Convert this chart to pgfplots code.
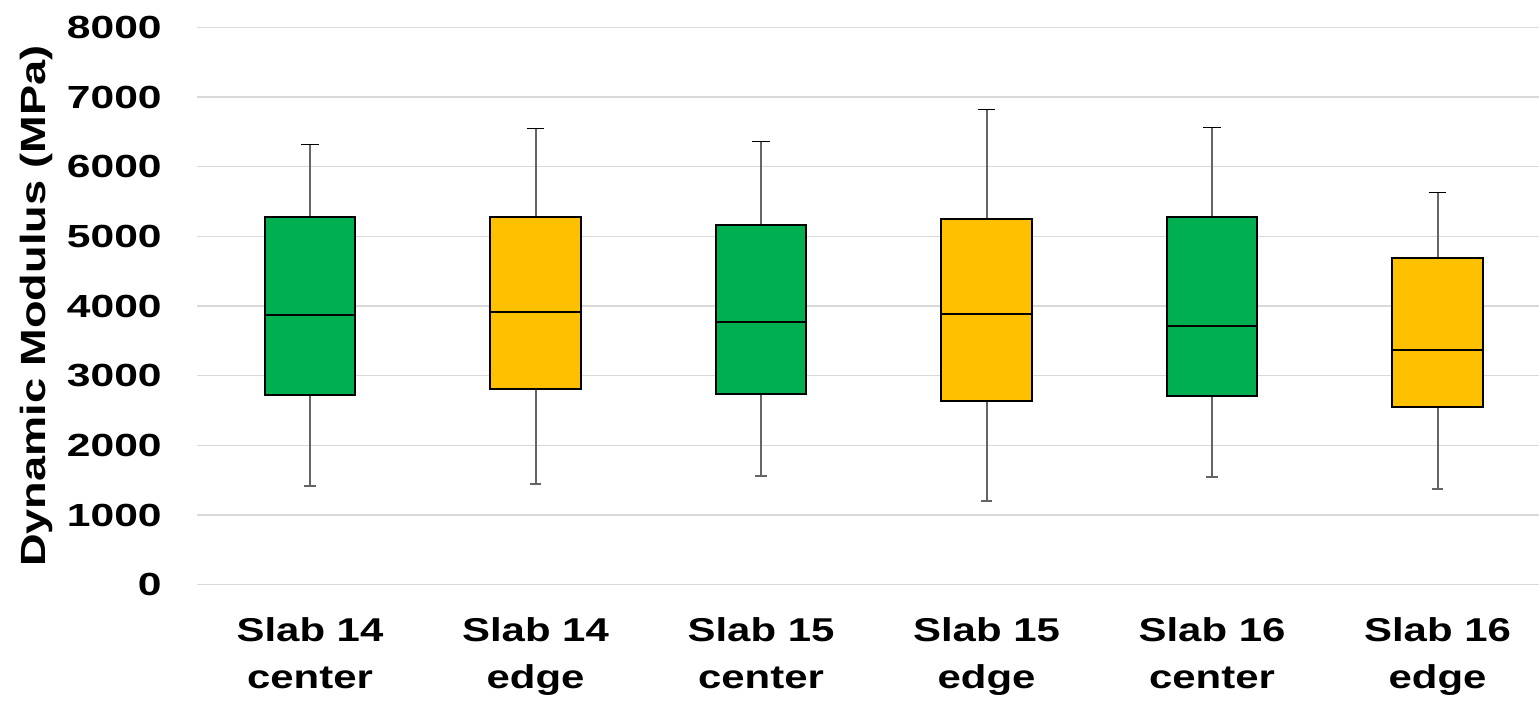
\documentclass[border=0pt]{standalone}
\usepackage{fontspec}
\setmainfont{Liberation Sans}
\usepackage{graphicx}
\usepackage{pgfplots}
\pgfplotsset{compat=1.18}
\definecolor{boxgreen}{HTML}{00B050}
\definecolor{boxyellow}{HTML}{FFC000}
\definecolor{gridgray}{HTML}{D9D9D9}
\definecolor{whiskgray}{HTML}{656565}
\newcommand{\sx}[1]{\scalebox{1.27}[1]{#1}}
\newcommand{\sy}[1]{\scalebox{1.33}[1]{#1}}
\begin{document}
\begin{tikzpicture}
\begin{axis}[
  at={(0,0)}, anchor=south west,
  scale only axis, width=670.875pt, height=278.65pt,
  xmin=-0.5, xmax=5.45, ymin=0, ymax=8000,
  ytick={0,1000,2000,3000,4000,5000,6000,7000,8000},
  xtick={0,1,2,3,4,5},
  xticklabels={{\sx{Slab 14}\\\sx{center}},{\sx{Slab 14}\\\sx{edge}},{\sx{Slab 15}\\\sx{center}},{\sx{Slab 15}\\\sx{edge}},{\sx{Slab 16}\\\sx{center}},{\sx{Slab 16}\\\sx{edge}}},
  yticklabels={\sy{0},\sy{1000},\sy{2000},\sy{3000},\sy{4000},\sy{5000},\sy{6000},\sy{7000},\sy{8000}},
  ymajorgrids, grid style={gridgray, line width=0.75pt},
  axis line style={draw=none}, tick style={draw=none},
  yticklabel style={font=\fontsize{16}{19}\selectfont\bfseries, anchor=east, inner sep=0pt, xshift=-17.6pt},
  xticklabel style={font=\fontsize{16.5}{23.5}\selectfont\bfseries, align=center, anchor=north, inner sep=0pt, yshift=-16pt},
  ylabel={\scalebox{1.29}[1]{Dynamic Modulus (MPa)}},
  every axis y label/.style={at={(axis description cs:0,0.5)}, xshift=-76.1pt, rotate=90, anchor=base, font=\fontsize{17.5}{20}\selectfont\bfseries, inner sep=0pt},
  unbounded coords=jump,
]
% whiskers (stems)
\addplot[whiskgray, line width=1pt] coordinates {
 (0,1417) (0,6321) (0,nan)
 (1,1441) (1,6551) (1,nan)
 (2,1560) (2,6362) (2,nan)
 (3,1197) (3,6823) (3,nan)
 (4,1542) (4,6565) (4,nan)
 (5,1369) (5,5632)};
% upper caps
\addplot[black, line width=0.8pt] coordinates {
 (-0.039,6321) (0.039,6321) (0,nan)
 (0.961,6551) (1.039,6551) (1,nan)
 (1.961,6362) (2.039,6362) (2,nan)
 (2.961,6823) (3.039,6823) (3,nan)
 (3.961,6565) (4.039,6565) (4,nan)
 (4.961,5632) (5.039,5632)};
% lower caps
\addplot[whiskgray, line width=1pt] coordinates {
 (-0.026,1417) (0.026,1417) (0,nan)
 (0.974,1441) (1.026,1441) (1,nan)
 (1.974,1560) (2.026,1560) (2,nan)
 (2.974,1197) (3.026,1197) (3,nan)
 (3.974,1542) (4.026,1542) (4,nan)
 (4.974,1369) (5.026,1369)};
% boxes: lower quartile to upper quartile
\addplot[fill=boxgreen, draw=black, line width=1pt] coordinates {(-0.2,2727) (0.2,2727) (0.2,5273) (-0.2,5273)} -- cycle;
\addplot[fill=boxyellow, draw=black, line width=1pt] coordinates {(0.8,2813) (1.2,2813) (1.2,5278) (0.8,5278)} -- cycle;
\addplot[fill=boxgreen, draw=black, line width=1pt] coordinates {(1.8,2733) (2.2,2733) (2.2,5158) (1.8,5158)} -- cycle;
\addplot[fill=boxyellow, draw=black, line width=1pt] coordinates {(2.8,2641) (3.2,2641) (3.2,5245) (2.8,5245)} -- cycle;
\addplot[fill=boxgreen, draw=black, line width=1pt] coordinates {(3.8,2713) (4.2,2713) (4.2,5278) (3.8,5278)} -- cycle;
\addplot[fill=boxyellow, draw=black, line width=1pt] coordinates {(4.8,2551) (5.2,2551) (5.2,4685) (4.8,4685)} -- cycle;
% medians
\addplot[black, line width=1pt] coordinates {
 (-0.2,3871) (0.2,3871) (0,nan)
 (0.8,3919) (1.2,3919) (1,nan)
 (1.8,3775) (2.2,3775) (2,nan)
 (2.8,3890) (3.2,3890) (3,nan)
 (3.8,3718) (4.2,3718) (4,nan)
 (4.8,3364) (5.2,3364)};
\end{axis}
\pgfresetboundingbox
\path[use as bounding box] (-98.625pt,-59.65pt) rectangle (670.875pt,292.35pt);
\end{tikzpicture}
\end{document}
